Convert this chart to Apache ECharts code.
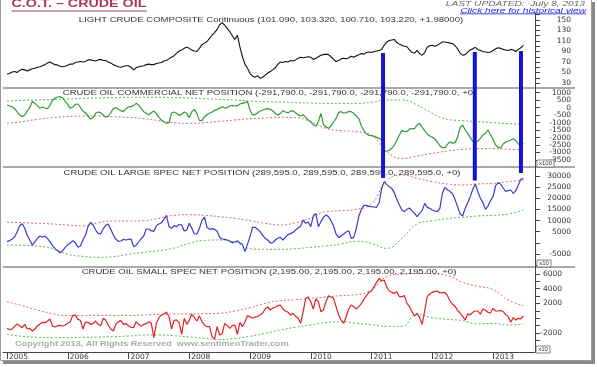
<!DOCTYPE html>
<html><head><meta charset="utf-8">
<script src="https://cdn.jsdelivr.net/npm/echarts@6/dist/echarts.min.js"></script>
<style>html,body{margin:0;padding:0;background:#fff}#c{width:597px;height:367px}</style>
</head><body><div id="c"></div>
<script>
// ---- data (semi-monthly samples from Jan 2005) ----
const startYear = 2005, stepYear = 1 / 24, bandStep = 1 / 4;
const price = [47,48,51,52,50,54,56,55,53,55,57,58,60,61,63,65,68,70,67,65,64,62,61,62,
 64,66,66,69,70,71,70,71,74,74,73,72,74,75,73,73,70,68,65,63,61,60,62,63,
 63,60,55,59,61,62,63,65,66,65,65,67,68,69,72,73,76,79,82,87,91,93,96,98,
 96,93,91,90,96,103,106,109,115,121,126,132,141,145,140,134,128,120,113,121,99,80,66,58,
 48,43,41,44,39,41,45,49,52,55,59,66,70,69,71,70,73,72,74,77,79,78,79,80,
 79,75,77,80,83,84,85,84,80,75,71,73,76,77,76,78,81,79,82,84,86,85,88,89,
 88,90,91,92,94,102,108,111,112,113,107,104,102,100,99,93,88,87,92,86,83,88,98,101,
 102,100,102,105,108,108,107,106,105,101,95,87,83,84,89,93,95,98,94,92,90,89,88,89,
 92,95,97,96,94,93,92,94,93,90,94,97,102];
const commercial = [178,111,66,-90,-268,-491,-603,-491,-224,21,416,289,133,-45,44,-23,-67,178,489,645,712,735,645,423,
 222,-45,44,222,244,21,-224,-357,-558,-759,-670,-380,-290,-335,-491,-647,-558,-335,-67,0,-112,-201,-268,-67,
 44,66,133,289,178,-45,-268,-380,-469,-335,-224,-380,-647,-826,-960,-1049,-1004,-380,-290,-380,-513,-446,-290,-380,
 -670,-268,-112,-380,-848,-870,-603,-469,-380,-290,-179,-112,-45,66,-23,0,111,155,111,133,244,289,334,400,
 -157,-491,-469,-335,-246,-157,-90,-67,-112,-224,-380,-513,-380,-201,-290,-335,-246,-201,-335,-469,-558,-469,-647,-826,
 -960,-1138,-1249,-937,-380,-1116,-1294,-1383,-1227,-960,-714,-313,-268,-357,-335,-268,-268,-380,-558,-736,-1227,-1539,-1762,-1851,
 -1873,-1918,-1985,-2052,-2163,-2921,-2898,-2854,-2720,-2519,-2185,-1829,-1539,-1584,-1606,-1428,-1405,-1405,-1160,-1049,-1316,-1539,-1762,-1896,
 -1985,-2096,-2296,-2542,-2675,-2675,-2452,-2274,-2386,-2341,-1985,-1316,-1160,-1494,-1717,-1985,-2252,-2341,-2252,-2052,-1829,-1717,-1494,-1829,
 -2118,-2497,-2653,-2697,-2430,-2296,-2230,-2163,-2074,-2208,-2430,-2519,-2386];
const largeSpec = [535,980,1730,2630,5020,7710,8610,6520,3380,1280,-960,390,2030,3080,2480,3080,1880,540,-1260,-2610,-3500,-4400,-3500,-2010,
 -810,-60,980,90,-2010,-1410,1280,3530,7270,9210,8160,5770,4270,3980,6370,7860,8460,6070,3530,1580,680,830,1580,1280,
 1580,1730,-1710,-1110,390,1880,3080,6220,6220,5470,5170,7710,8460,9060,10560,12350,7270,6520,7710,7270,8310,8010,5320,5770,
 8760,6520,3980,3980,6520,9960,11600,6970,6070,6370,6070,5170,2480,1730,1580,1280,680,90,390,980,-60,-660,-3950,-660,
 2780,6970,6970,6070,5020,3380,2030,1280,-60,90,1280,2180,2480,1280,2480,3680,4130,4720,5770,6670,7570,10260,8760,9360,
 7270,12050,13250,7270,9510,11450,12500,11750,9960,7570,3970,2330,3080,3970,4870,5470,2030,2480,6520,12050,15040,16840,16840,16390,
 16240,16090,15940,18030,24470,27460,26260,25210,24470,22520,19530,16990,14740,14000,15040,15640,14440,13250,11750,13250,14440,17740,15940,15490,
 14740,14290,14000,15490,22220,24920,23720,23120,21920,19530,16240,12950,12050,15490,18030,20730,24020,26410,22970,19980,18030,15040,16540,18930,
 20730,25510,27010,26410,24620,23120,23420,23720,22220,23420,25960,28500,28950];
const smallSpec = [-1368,-1550,-1458,-1100,-780,-1010,-1280,-825,-1458,-1368,-1730,-1458,-1050,-780,-555,-600,-375,-100,-1100,-1190,-1010,-960,-1050,-916,
 -690,-464,395,440,-150,-280,-1458,-510,-555,-825,-735,-375,-825,-1010,-12,-280,-916,-1458,-1729,-825,-464,-328,-825,-735,
 -1010,-1230,-1277,-464,-825,-1100,-825,-735,-464,-690,-2630,-690,80,440,576,847,214,-1458,-283,-238,-600,-2200,-12,-825,
 -283,531,80,-375,350,-464,-916,-1142,-1142,-2498,-2814,-1142,-2272,-2091,-690,-1010,-1368,-1010,-916,-2200,-555,-1142,-464,350,
 214,-12,170,260,440,710,1254,1525,1118,1344,1525,1706,1796,1254,983,802,440,666,260,-12,-690,892,2700,2880,
 2248,1254,2610,2248,892,1118,2248,3062,2880,2700,1570,440,-238,-690,214,1254,1796,1570,1254,1570,2022,2565,3062,3514,
 3695,4282,4870,5412,5050,5186,4237,3695,3514,3378,3604,2926,2926,3062,2022,1570,892,305,666,80,-825,983,2926,3288,
 3514,3650,3695,3423,3469,3514,3062,2338,1887,1616,1073,711,260,-238,621,440,802,983,983,531,1254,1073,802,711,
 1344,983,983,1073,892,531,214,-555,80,-238,-12,-100,305];
// quarterly envelope bands
const commUpper = [445,490,512,556,579,623,646,668,690,690,690,668,646,601,556,512,445,400,378,333,311,289,289,289,356,512,512,178,-380,-781,-870,-937,-1004,-1071,-1115];
const commLower = [-1049,-937,-781,-670,-603,-558,-558,-603,-647,-736,-870,-1004,-1049,-1004,-915,-826,-736,-692,-647,-670,-937,-1383,-1539,-1606,-1829,-2943,-3389,-3233,-3054,-2898,-2787,-2742,-2742,-2787,-2831];
const largeUpper = [9360,9060,8760,8460,8010,7565,9060,9810,9810,9960,11005,12350,12650,12350,11750,11005,9960,8760,8010,9000,11000,14000,14440,15040,17735,27900,30450,28950,27460,26410,25960,26410,26710,27460,28200];
const largeLower = [-960,-1110,-1410,-2610,-5150,-6050,-6500,-6200,-5150,-4250,-3500,-2310,-210,1130,1280,385,-2610,-2900,-2900,-2610,-2010,-1410,-510,680,-210,-2460,2030,8460,9960,10855,11450,12050,12350,12950,14740];
const smallUpper = [2248,1706,1118,621,350,350,395,395,395,440,531,576,576,621,666,983,1435,2022,2384,2520,2700,2881,3062,3198,3830,5638,6000,6090,6045,5774,4870,4328,3876,2474,1706];
const smallLower = [-2181,-2452,-2588,-2633,-2633,-2588,-2543,-2498,-2407,-2272,-2272,-2362,-2543,-2724,-2904,-2724,-2452,-2046,-1594,-1232,-916,-599,-464,-690,-870,-1096,-1096,531,80,-147,-328,-780,-690,-916,-780];
// tick labels
const yearTicks = [2005,2006,2007,2008,2009,2010,2011,2012,2013];
const priceTicks = [30,40,50,60,70,80,90,100,110,120,130,140,150,160];
const priceLabels = [30,50,70,90,110,130,150];
const commTicks = [-3500,-3000,-2500,-2000,-1500,-1000,-500,0,500,1000];
const commLabelsA = [-3000,-2000,-1000,0,1000];
const commLabelsB = [-3500,-2500,-1500,-500,500];
const largeTicks = [-10000,-5000,0,5000,10000,15000,20000,25000,30000];
const largeLabels = [-5000,5000,10000,15000,20000,25000,30000];
const smallTicks = [-4000,-3000,-2000,-1000,0,1000,2000,3000,4000,5000,6000];
const smallLabels = [-2000,2000,4000,6000];
// highlighted weeks (blue markers): date, top on price scale, bottom on large-spec scale
const markYears = [2011.19, 2012.70, 2013.46];
const markTopPrice = [87, 89, 91];
const markBottomLarge = [29100, 28000, 31350];

const toPts = (arr, step) => arr.map((v, i) => [startYear + i * step, v]);
const X_MIN = 2004.934, X_MAX = 2013.691;
const chart = echarts.init(document.getElementById('c'), null, {renderer: 'canvas'});

const grids = [
  {left: 3, right: 62, top: 13, height: 75},
  {left: 3, right: 62, top: 88, height: 79},
  {left: 3, right: 62, top: 167, height: 100},
  {left: 3, right: 62, top: 267, height: 85}
];
function xAx(gi, show) {
  return {gridIndex: gi, type: 'value', min: X_MIN, max: X_MAX, show: show, position: 'bottom',
    splitLine: {show: false},
    axisLine: {show: show, onZero: false, lineStyle: {color: '#444', width: 1}},
    axisTick: {show: show, customValues: yearTicks, length: 7, lineStyle: {color: '#444'}},
    axisLabel: {show: show, customValues: yearTicks, formatter: v => String(Math.round(v)), align: 'left', margin: 1,
      hideOverlap: false, padding: [0, 0, 0, 2], fontFamily: 'DejaVu Sans', fontSize: 7.5, color: '#333'}};
}
function yAx(gi, min, max, ticks, labels, margin, bare) {
  return {gridIndex: gi, type: 'value', position: 'right', min: min, max: max,
    splitLine: {show: false},
    axisLine: {show: !bare, onZero: false, lineStyle: {color: '#444', width: 1}},
    axisTick: {show: !bare, customValues: ticks, length: 5, lineStyle: {color: '#444'}},
    axisLabel: {show: true, customValues: labels, margin: margin, align: 'right', formatter: v => String(v),
      hideOverlap: false, showMinLabel: true, showMaxLabel: true,
      fontFamily: 'DejaVu Sans', fontSize: 7.5, color: '#333'}};
}
function line(gi, data, color, width, dotted, smooth) {
  return {type: 'line', xAxisIndex: gi, yAxisIndex: gi, data: data, showSymbol: false, symbol: 'none',
    smooth: !!smooth, silent: true, animation: false,
    lineStyle: {color: color, width: width, type: dotted ? [2, 2] : 'solid'}};
}
const RED_D = '#e06a6a', GRN_D = '#5fb35f';
function txt(id, text, x, y, font, fill, align, vAlign, scaleX) {
  return {id: id, type: 'text', x: x, y: y, scaleX: scaleX || 1, silent: true, z: 50,
    style: {text: text, font: font, fill: fill, textAlign: align, textVerticalAlign: vAlign, align: align, verticalAlign: vAlign}};
}
function ln(id, x1, y1, x2, y2, color, w) {
  return {id: id, type: 'line', silent: true, z: 40, shape: {x1: x1, y1: y1, x2: x2, y2: y2}, style: {stroke: color, lineWidth: w || 1}};
}
function box(id, x, y, w, h, label) {
  return [
    {id: id + 'r', type: 'rect', silent: true, z: 40, shape: {x: x, y: y, width: w, height: h}, style: {fill: '#fff', stroke: '#666', lineWidth: 0.8}},
    txt(id + 't', label, x + w / 2, y + h / 2 + 0.5, '5px "Liberation Sans"', '#333', 'center', 'middle', 1.2)
  ];
}
const TF = '6.5px "Liberation Sans"';
const graphics = [
  {id: 'frame', type: 'rect', silent: true, z: 1, shape: {x: 0.5, y: -2, width: 591, height: 362.5}, style: {fill: 'none', stroke: '#9a9a9a', lineWidth: 1}},
  {id: 'shR', type: 'rect', silent: true, z: 1, shape: {x: 592, y: 2, width: 3, height: 362}, style: {fill: '#8a8a8a'}},
  {id: 'shB', type: 'rect', silent: true, z: 1, shape: {x: 3, y: 361, width: 592, height: 3}, style: {fill: '#8a8a8a'}},
  txt('hdr', 'C.O.T. \u2013 CRUDE OIL', 11.5, 9.8, 'bold 10.5px "Liberation Sans"', '#a33a62', 'left', 'bottom', 1.36),
  ln('hdrU', 11.5, 11, 147, 11, '#a33a62', 1),
  txt('upd', 'LAST UPDATED:  July 8, 2013', 585, 4, 'italic 7px "Liberation Sans"', '#666', 'right', 'middle', 1.45),
  txt('lnk', 'Click here for historical view', 586, 10.6, 'italic 7px "Liberation Sans"', '#1c1cd8', 'right', 'middle', 1.45),
  ln('lnkU', 460, 13.8, 586, 13.8, '#1c1cd8', 0.8),
  txt('t1', 'LIGHT CRUDE COMPOSITE Continuous (101.090, 103.320, 100.710, 103.220, +1.98000)', 271, 20.5, TF, '#333', 'center', 'middle', 1.47),
  txt('t2', 'CRUDE OIL COMMERCIAL NET POSITION (-291,790.0, -291,790.0, -291,790.0, -291,790.0, +0)', 269.5, 93, TF, '#333', 'center', 'middle', 1.47),
  txt('t3', 'CRUDE OIL LARGE SPEC NET POSITION (289,595.0, 289,595.0, 289,595.0, 289,595.0, +0)', 262, 173.5, TF, '#333', 'center', 'middle', 1.47),
  txt('t4', 'CRUDE OIL SMALL SPEC NET POSITION (2,195.00, 2,195.00, 2,195.00, 2,195.00, +0)', 269, 272, TF, '#333', 'center', 'middle', 1.47),
  txt('copy', 'Copyright 2013, All Rights Reserved  www.sentimenTrader.com', 15, 344.5, 'bold 6.5px "Liberation Sans"', '#aaaaaa', 'left', 'middle', 1.4),
  ln('s1', 3, 88, 575, 88, '#555', 1),
  ln('s2', 3, 167, 575, 167, '#555', 1),
  ln('s3', 3, 267, 575, 267, '#555', 1)
].concat(box('b1', 537, 160, 17, 7, 'x100'), box('b2', 537, 260, 14, 7, 'x10'), box('b3', 536, 346, 14, 7, 'x10'));

const option = {
  backgroundColor: '#fff',
  animation: false,
  grid: grids,
  xAxis: [xAx(0, false), xAx(1, false), xAx(2, false), xAx(3, true)],
  yAxis: [
    yAx(0, 20.48, 163.33, priceTicks, priceLabels, 36),
    yAx(1, -3968, 1314, commTicks, commLabelsA, 36),
    yAx(2, -10832, 34038, largeTicks, largeLabels, 36),
    yAx(3, -4577, 6949, smallTicks, smallLabels, 27),
    yAx(1, -3968, 1314, commTicks, commLabelsB, 36, true)
  ],
  series: [
    line(0, toPts(price, stepYear), '#111', 1.1),
    line(1, toPts(commUpper, bandStep), GRN_D, 1, true, true),
    line(1, toPts(commLower, bandStep), RED_D, 1, true, true),
    line(1, toPts(commercial, stepYear), '#2f9a35', 1.2),
    line(2, toPts(largeUpper, bandStep), RED_D, 1, true, true),
    line(2, toPts(largeLower, bandStep), GRN_D, 1, true, true),
    line(2, toPts(largeSpec, stepYear), '#3a3ad2', 1.2),
    line(3, toPts(smallUpper, bandStep), RED_D, 1, true, true),
    line(3, toPts(smallLower, bandStep), GRN_D, 1, true, true),
    line(3, toPts(smallSpec, stepYear), '#e02222', 1.2)
  ],
  graphic: {elements: graphics}
};
chart.setOption(option);

// blue highlight markers positioned through the chart's own scales
const marks = markYears.map((yr, k) => {
  const top = chart.convertToPixel({xAxisIndex: 0, yAxisIndex: 0}, [yr, markTopPrice[k]]);
  const bot = chart.convertToPixel({xAxisIndex: 2, yAxisIndex: 2}, [yr, markBottomLarge[k]]);
  return {id: 'mk' + k, type: 'rect', silent: true, z: 60,
    shape: {x: top[0] - 2, y: top[1], width: 4, height: bot[1] - top[1]}, style: {fill: '#1414d6'}};
});
chart.setOption({graphic: {elements: graphics.concat(marks)}});
</script></body></html>
